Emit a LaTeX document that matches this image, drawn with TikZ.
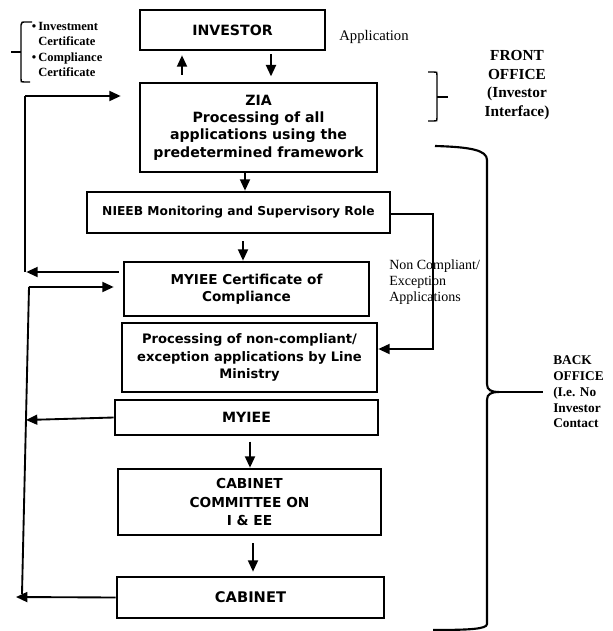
\documentclass[tikz,border=0pt]{standalone}
\usepackage{fontspec}
\setmainfont{Liberation Serif}
\newfontfamily\boxfont{DejaVu Sans}
\usetikzlibrary{arrows.meta}
\begin{document}
\begin{tikzpicture}[x=0.75pt,y=-0.75pt,
  box/.style={draw, line width=2pt, inner sep=0pt, align=center,
    font=\boxfont\bfseries\fontsize{10.6}{13}\selectfont},
  arr/.style={-{Triangle[length=8.5pt,width=7.5pt]}, line width=1.4pt},
  ln/.style={line width=1.4pt},
  brace/.style={line width=1.1pt},
  lbl/.style={inner sep=0pt, align=left}]
\useasboundingbox[fill=white] (0,0) rectangle (613,631);

% boxes
\node[box, minimum width=138.75pt, minimum height=30pt] (inv) at (232.5,30) {INVESTOR};
\node[box, minimum width=177.75pt, minimum height=66.75pt] (zia) at (258.5,127.5)
  {ZIA\\Processing of all\\applications using the\\predetermined framework};
\node[box, minimum width=227.25pt, minimum height=30.75pt,
  font=\boxfont\bfseries\fontsize{9.2}{11}\selectfont] (nieeb) at (238.5,212.5)
  {NIEEB Monitoring and Supervisory Role};
\node[box, minimum width=183.75pt, minimum height=40.5pt,
  font=\boxfont\bfseries\fontsize{10.2}{13}\selectfont] (cert) at (246.5,289)
  {MYIEE Certificate of\\Compliance};
\node[box, minimum width=191.25pt, minimum height=51.75pt,
  font=\boxfont\bfseries\fontsize{9.8}{13}\selectfont] (proc) at (249.5,357.5)
  {Processing of non-compliant/\\exception applications by Line\\Ministry};
\node[box, minimum width=197.25pt, minimum height=26.25pt] (myiee) at (246.5,417.5) {MYIEE};
\node[box, minimum width=197.25pt, minimum height=49.5pt,
  font=\boxfont\bfseries\fontsize{10.3}{14}\selectfont] (cc) at (249.5,502)
  {CABINET\\COMMITTEE ON\\I \& EE};
\node[box, minimum width=200.25pt, minimum height=30.75pt,
  font=\boxfont\bfseries\fontsize{11}{13}\selectfont] (cab) at (250.5,597.5) {CABINET};

% labels
\node[lbl, font=\fontsize{11}{13}\selectfont] (app) at (374,37) {Application};
\node[lbl, align=center, font=\bfseries\fontsize{11.5}{14}\selectfont] (front) at (517,85)
  {FRONT\\OFFICE\\(Investor\\Interface)};
\node[lbl, anchor=west, font=\bfseries\fontsize{10}{11.8}\selectfont] (back) at (553,392)
  {BACK\\OFFICE\\(I.e. No\\Investor\\Contact};
\node[lbl, anchor=west, font=\fontsize{10.5}{12}\selectfont] (nonc) at (389,282)
  {Non Compliant/\\Exception\\Applications};
\node[lbl, anchor=west, font=\bfseries\fontsize{9.4}{11.7}\selectfont] (certs) at (38,49.5)
  {\llap{\textbullet\,}Investment\\Certificate\\\llap{\textbullet\,}Compliance\\Certificate};

% column coordinates
\coordinate (c1) at (182,0);
\coordinate (c2) at (271,0);
\coordinate (c3) at (245,0);
\coordinate (c4) at (243,0);
\coordinate (c5) at (250,0);
\coordinate (c6) at (253,0);

% vertical arrows
\draw[arr, shorten <=5pt, shorten >=3pt] (zia.north -| c1) -- (inv.south -| c1);
\draw[arr, shorten <=2pt, shorten >=4pt] (inv.south -| c2) -- (zia.north -| c2);
\draw[arr] (zia.south -| c3) -- (nieeb.north -| c3);
\draw[arr, shorten <=5pt] (nieeb.south -| c4) -- (cert.north -| c4);
\draw[arr, shorten <=4pt] (myiee.south -| c5) -- (cc.north -| c5);
\draw[arr, shorten <=5pt, shorten >=3pt] (cc.south -| c6) -- (cab.north -| c6);

% left loop 1
\coordinate (l1t) at (25,96);
\coordinate (l1b) at (25,272);
\draw[ln] (l1b) -- (l1t);
\draw[arr, shorten >=13.5pt] (l1t) -- (zia.west |- l1t);
\draw[arr, shorten <=3pt] (cert.west |- l1b) -- ([xshift=1pt]l1b);

% left loop 2
\coordinate (l2t) at (29,287);
\coordinate (l2b) at (22,594);
\coordinate (l2m) at (26,420);
\coordinate (l2e) at (16,597);
\draw[ln] (l2b) -- (l2t);
\draw[arr, shorten >=6.75pt] (l2t) -- (cert.west |- l2t);
\draw[arr] (myiee.west) -- (l2m);
\draw[arr] (cab.west) -- (l2e);

% non-compliant route
\coordinate (nr) at (433,214);
\coordinate (nb) at (433,349);
\draw[arr] (nieeb.east |- nr) -- (nr) -- (nb) -- (proc.east |- nb);

% small left bracket
\coordinate (bk) at (11,52);
\draw[brace] (32,22) -- (24,22) .. controls (22,22) .. (21,25) -- (21,79)
  .. controls (21,82) .. (24,82) -- (30,82);
\draw[brace] (bk) -- (21,52);

% front office brace
\coordinate (fb) at (448,97);
\draw[brace] (428,72) -- (434,72) .. controls (437,72) .. (437,75) -- (437,118)
  .. controls (437,121) .. (434,121) -- (428,121);
\draw[brace] (437,97) -- (fb);

% back office brace
\coordinate (bb) at (543,392);
\draw[line width=1.6pt] (435,146) .. controls (470,147) and (487,150) .. (487,160)
  -- (487,384) .. controls (487,390) and (491,392) .. (499,392)
  .. controls (491,392) and (487,394) .. (487,400)
  -- (487,624) .. controls (487,629) and (470,630) .. (433,630);
\draw[line width=1.8pt] (497,392) -- (bb);
\end{tikzpicture}
\end{document}
